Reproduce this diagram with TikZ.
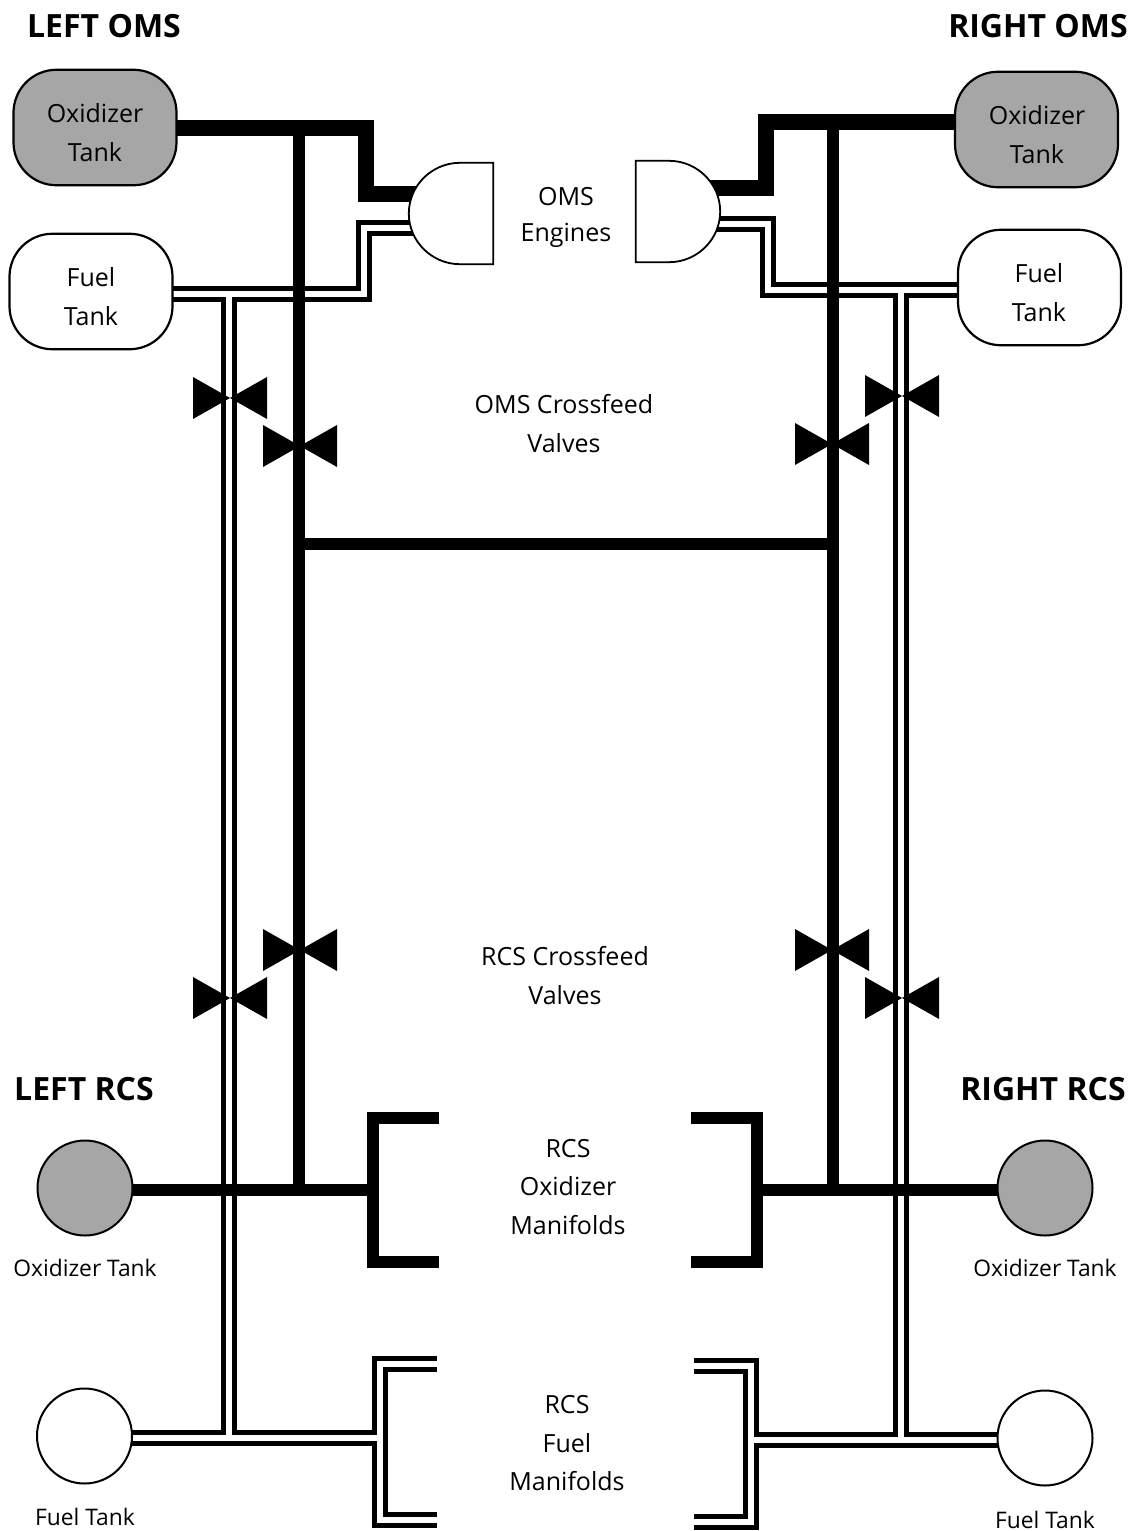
\documentclass[tikz,border=0pt]{standalone}
\usepackage{fontspec}
\setmainfont{Open Sans}
\usetikzlibrary{backgrounds,calc}
\definecolor{tankgray}{HTML}{A6A6A6}
\tikzset{
  txt/.style={inner sep=0pt,align=center,font=\fontsize{25}{38.5}\selectfont},
  smalltxt/.style={inner sep=0pt,align=center,font=\fontsize{22.8}{30}\selectfont},
  head/.style={inner sep=0pt,font=\fontsize{32}{36}\selectfont\bfseries},
  tank/.style={draw=black,line width=2.2pt,rounded corners=43pt,minimum width=163pt,minimum height=115.5pt,inner sep=0pt},
  ball/.style={draw=black,line width=2pt,circle,minimum size=95pt,inner sep=0pt},
  enginebox/.style={minimum width=84pt,minimum height=101pt,inner sep=0pt},
  enginepath/.style={draw=black,fill=white,line width=1.8pt},
  oxmain/.style={line width=16pt,miter limit=10},
  oxpipe/.style={line width=12pt,miter limit=10},
  fuelblack/.style={line width=16pt,draw=black,miter limit=10},
  fuelwhite/.style={line width=6pt,draw=white,miter limit=10},
  valvept/.style={inner sep=0pt,minimum size=0pt,outer sep=0pt},
}
\newcommand\valvemark[1]{\fill[black] ([shift={(-37,21)}]#1.center) -- ([shift={(37,-21)}]#1.center) -- ([shift={(37,21)}]#1.center) -- ([shift={(-37,-21)}]#1.center) -- cycle;}
\newcommand\fuelnet[1]{%
  \draw[#1] (fuelL |- lfh) -- (lfh) -- (lfu) -- (lfe);
  \draw[#1] (lfj) -- (lfb);
  \draw[#1] (fuelballL |- lfm) -- (lfm);
  \draw[#1] (lfmt) -- (lfmtc) -- (lfmbc) -- (lfmb);
  \draw[#1] (fuelR |- rfh) -- (rfh) -- (rfu) -- (rfe);
  \draw[#1] (rfj) -- (rfb);
  \draw[#1] (fuelballR |- rfm) -- (rfm);
  \draw[#1] (rfmt) -- (rfmtc) -- (rfmbc) -- (rfmb);
}
\begin{document}
\begin{tikzpicture}[x=1pt,y=-1pt]
\useasboundingbox (0,0) rectangle (1138,1531);
% tanks
\node[tank,fill=tankgray] (oxL) at (95,127.5) {};
\node[tank,fill=white] (fuelL) at (91,291.5) {};
\node[tank,fill=tankgray] (oxR) at (1036.5,129.5) {};
\node[tank,fill=white] (fuelR) at (1039.5,287.5) {};
\node[ball,fill=tankgray] (oxballL) at (85,1188) {};
\node[ball,fill=white] (fuelballL) at (84.5,1436) {};
\node[ball,fill=tankgray] (oxballR) at (1045,1188) {};
\node[ball,fill=white] (fuelballR) at (1045,1438) {};
% engines
\node[enginebox] (engL) at (451,213.5) {};
\node[enginebox] (engR) at (678,211.5) {};
\draw[enginepath] (engL.north east) -- ($(engL.north)+(9,0)$) .. controls +(-28,0) and ($(engL.west)+(0,-28)$) .. (engL.west) .. controls ($(engL.west)+(0,28)$) and ($(engL.south)+(-19,0)$) .. ($(engL.south)+(9,0)$) -- (engL.south east) -- cycle;
\draw[enginepath] (engR.north west) -- ($(engR.north)+(-9,0)$) .. controls +(28,0) and ($(engR.east)+(0,-28)$) .. (engR.east) .. controls ($(engR.east)+(0,28)$) and ($(engR.south)+(19,0)$) .. ($(engR.south)+(-9,0)$) -- (engR.south west) -- cycle;
% valves
\node[valvept] (vLf1) at (230,398) {};
\node[valvept] (vLo1) at (300,446) {};
\node[valvept] (vRf1) at (902,396) {};
\node[valvept] (vRo1) at (832,444) {};
\node[valvept] (vLo2) at (300,950) {};
\node[valvept] (vLf2) at (230,998) {};
\node[valvept] (vRo2) at (832,950) {};
\node[valvept] (vRf2) at (902,998) {};
% routing points
\coordinate (lfh) at (364,294); \coordinate (lfu) at (364,227.7); \coordinate (lfe) at (420,227.7);
\coordinate (lfj) at (229,294); \coordinate (lfb) at (229,1438);
\coordinate (lfm) at (379.5,1438);
\coordinate (lfmt) at (437,1364); \coordinate (lfmtc) at (379.5,1364); \coordinate (lfmbc) at (379.5,1519.5); \coordinate (lfmb) at (437,1519.5);
\coordinate (rfh) at (768,290); \coordinate (rfu) at (768,224); \coordinate (rfe) at (710,224);
\coordinate (rfj) at (901,290); \coordinate (rfb) at (901,1440);
\coordinate (rfm) at (751,1440);
\coordinate (rfmt) at (694,1365.5); \coordinate (rfmtc) at (751,1365.5); \coordinate (rfmbc) at (751,1522); \coordinate (rfmb) at (694,1522);
\coordinate (loh) at (366,128); \coordinate (lod) at (366,194); \coordinate (loe) at (425,194);
\coordinate (lov) at (299,128); \coordinate (lovb) at (299,1190);
\coordinate (roh) at (766,122); \coordinate (rod) at (766,188); \coordinate (roe) at (705,188);
\coordinate (rov) at (833,122); \coordinate (rovb) at (833,1190);
\coordinate (cfL) at (299,544); \coordinate (cfR) at (833,544);
\coordinate (lma) at (439,1118); \coordinate (lmb) at (373,1118); \coordinate (lmc) at (373,1262); \coordinate (lmd) at (439,1262); \coordinate (lmj) at (373,1190);
\coordinate (rma) at (691,1118); \coordinate (rmb) at (757,1118); \coordinate (rmc) at (757,1262); \coordinate (rmd) at (691,1262); \coordinate (rmj) at (757,1190);
\begin{pgfonlayer}{background}
  \fill[white] (0,0) rectangle (1138,1531);
  \fuelnet{fuelblack}
  \fuelnet{fuelwhite}
  \draw[oxmain] (oxL |- loh) -- (loh) -- (lod) -- (loe);
  \draw[oxmain] (oxR |- roh) -- (roh) -- (rod) -- (roe);
  \draw[oxpipe] (lov) -- (lovb);
  \draw[oxpipe] (rov) -- (rovb);
  \draw[oxpipe] (cfL) -- (cfR);
  \draw[oxpipe] (lma) -- (lmb) -- (lmc) -- (lmd);
  \draw[oxpipe] (rma) -- (rmb) -- (rmc) -- (rmd);
  \draw[oxpipe] (oxballL |- lmj) -- (lmj);
  \draw[oxpipe] (oxballR |- rmj) -- (rmj);
\end{pgfonlayer}
\valvemark{vLf1}\valvemark{vLo1}\valvemark{vRf1}\valvemark{vRo1}
\valvemark{vLo2}\valvemark{vLf2}\valvemark{vRo2}\valvemark{vRf2}
% labels
\node[head] (t1) at (104,26) {LEFT OMS};
\node[head] (t2) at (1038,26) {RIGHT OMS};
\node[head] (t3) at (84,1089) {LEFT RCS};
\node[head] (t4) at (1043,1089) {RIGHT RCS};
\node[txt] (l1) at (95,132.5) {Oxidizer\\Tank};
\node[txt] (l2) at (91,296.5) {Fuel\\Tank};
\node[txt] (l3) at (1037,134.5) {Oxidizer\\Tank};
\node[txt] (l4) at (1039,292.5) {Fuel\\Tank};
\node[txt,font=\fontsize{25}{36}\selectfont] (t5) at (566,217) {OMS\\Engines};
\node[txt] (t6) at (564,423.5) {OMS Crossfeed\\Valves};
\node[txt] (t7) at (565,975.5) {RCS Crossfeed\\Valves};
\node[txt] (t8) at (568,1187) {RCS\\Oxidizer\\Manifolds};
\node[txt] (t9) at (567,1443.5) {RCS\\Fuel\\Manifolds};
\node[smalltxt] (t10) at (85,1268) {Oxidizer Tank};
\node[smalltxt] (t11) at (1045,1268) {Oxidizer Tank};
\node[smalltxt] (t12) at (85,1517) {Fuel Tank};
\node[smalltxt] (t13) at (1045,1520) {Fuel Tank};
\end{tikzpicture}
\end{document}
